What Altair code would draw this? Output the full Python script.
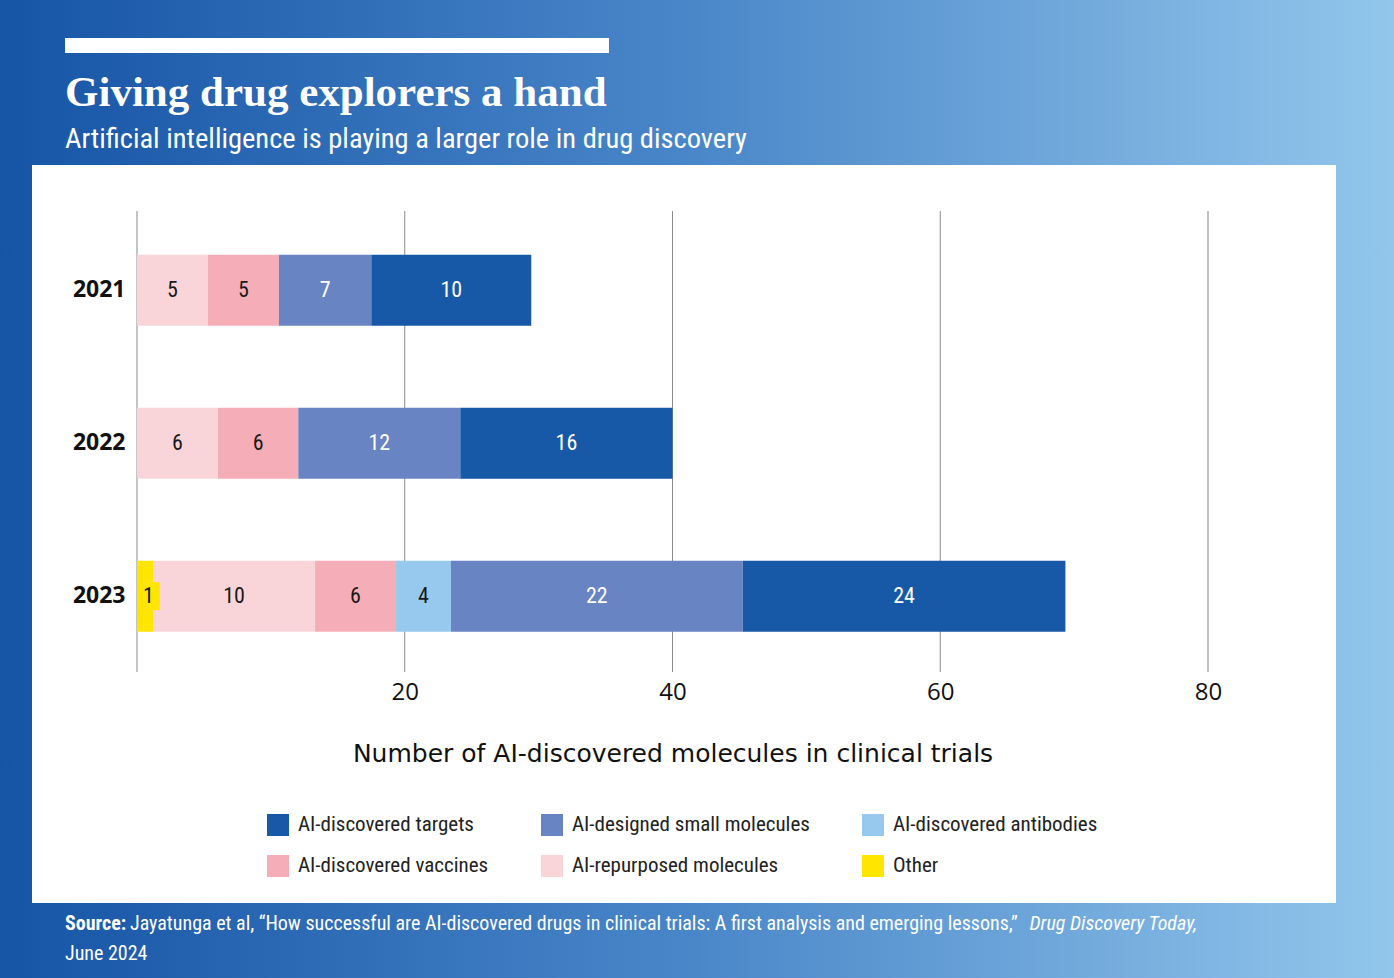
import altair as alt
import pandas as pd

# ---------------- data ----------------
years = ["2021", "2022", "2023"]
# legend order (column by column: two rows, three columns)
categories = ["AI-discovered targets", "AI-discovered vaccines", "AI-designed small molecules",
              "AI-repurposed molecules", "AI-discovered antibodies", "Other"]
colors = ["#1859a7", "#f5aeb8", "#6984c3", "#f9d5da", "#96c9ed", "#ffe500"]
# stacking order, left to right
stack_order = ["Other", "AI-repurposed molecules", "AI-discovered vaccines",
               "AI-discovered antibodies", "AI-designed small molecules", "AI-discovered targets"]
white_text = ["AI-discovered targets", "AI-designed small molecules"]

# labelled counts per year (stack order; None = category absent)
labels_2021 = [None, 5, 5, None, 7, 10]
labels_2022 = [None, 6, 6, None, 12, 16]
labels_2023 = [1, 10, 6, 4, 22, 24]
# segment extents as drawn in the picture (axis units)
drawn_2021 = [0, 5.3, 5.3, 0, 6.9, 11.95]
drawn_2022 = [0, 6.05, 6.0, 0, 12.1, 15.85]
drawn_2023 = [1.2, 12.1, 6.05, 4.1, 21.8, 24.1]
other_label_box_end = 1.7

x_ticks = [0, 20, 40, 60, 80]

title = "Giving drug explorers a hand"
subtitle = "Artificial intelligence is playing a larger role in drug discovery"
x_title = "Number of AI-discovered molecules in clinical trials"
source_bold = "Source:"
source_main = "Jayatunga et al, \u201cHow successful are AI-discovered drugs in clinical trials: A first analysis and emerging lessons,\u201d"
source_italic = "Drug Discovery Today"
source_line2 = "June 2024"

# ---------------- build table ----------------
rows = []
for yr, labs, lens in [("2021", labels_2021, drawn_2021), ("2022", labels_2022, drawn_2022),
                       ("2023", labels_2023, drawn_2023)]:
    pos = 0.0
    for i, (cat, lab, ln) in enumerate(zip(stack_order, labs, lens)):
        if lab is None:
            continue
        rows.append(dict(year=yr, category=cat, label=str(lab), order=i,
                         start=pos, end=pos + ln, mid=pos + ln / 2))
        pos += ln
df = pd.DataFrame(rows)
is_other = (df.year == "2023") & (df.category == "Other")
box_df = df[is_other].copy()
box_df["end"] = other_label_box_end
df.loc[is_other, "mid"] = other_label_box_end / 2

NARROW = "Liberation Sans Narrow, Roboto Condensed, DejaVu Sans Condensed, sans-serif"
SANS = "Open Sans, Montserrat, sans-serif"
WIDE = "DejaVu Sans, Verdana, sans-serif"

W, H = 1071, 461
PL, PT = 137, 211
one = pd.DataFrame({"a": [0]})

xscale = alt.Scale(domain=[0, 80], nice=False, zero=False)
yscale = alt.Scale(domain=years, paddingInner=0.536, paddingOuter=0.2745, align=0.52)

grad = alt.Gradient(gradient="linear", x1=0, x2=1, y1=0, y2=0,
                    stops=[alt.GradientStop(color="#1654a6", offset=0),
                           alt.GradientStop(color="#4a87c9", offset=0.5),
                           alt.GradientStop(color="#92c6eb", offset=1)])

bg = alt.Chart(one).mark_rect(color=grad).encode(
    x=alt.value(-PL), x2=alt.value(1394 - PL), y=alt.value(-PT), y2=alt.value(978 - PT))
panel = alt.Chart(one).mark_rect(color="white").encode(
    x=alt.value(32 - PL), x2=alt.value(1336 - PL), y=alt.value(165 - PT), y2=alt.value(903 - PT))
topbar = alt.Chart(one).mark_rect(color="white").encode(
    x=alt.value(65 - PL), x2=alt.value(609 - PL), y=alt.value(38 - PT), y2=alt.value(53 - PT))


def txt(text, x, y, size, font, weight="normal", style="normal", align="left", color="white"):
    return alt.Chart(one).mark_text(text=text, align=align, baseline="alphabetic", font=font,
                                    fontSize=size, fontWeight=weight, fontStyle=style,
                                    color=color).encode(x=alt.value(x - PL), y=alt.value(y - PT))


t_title = txt(title, 65, 106, 43, "Liberation Serif, DejaVu Serif, serif", weight="bold")
t_sub = txt(subtitle, 65, 148, 28.5, NARROW)
s1 = txt(source_bold, 65, 930, 20, NARROW, weight="bold")
s2 = txt(source_main, 130, 930, 20, NARROW)
s3 = txt(source_italic + ",", 1197, 930, 20, NARROW, style="italic", align="right")
s4 = txt(source_line2, 65, 960, 20, NARROW)

grid = alt.Chart(pd.DataFrame({"v": x_ticks})).mark_rule(color="#8a8a8a", strokeWidth=1).encode(
    x=alt.X("v:Q", scale=xscale), y=alt.value(0), y2=alt.value(H))

bars = alt.Chart(df).mark_bar().encode(
    x=alt.X("start:Q", scale=xscale,
            axis=alt.Axis(values=x_ticks, labelExpr="datum.value == 0 ? '' : datum.label",
                          grid=False, ticks=False, domain=False, labelFont=SANS, labelFontSize=24,
                          labelColor="#111", labelPadding=8, labelFlush=False, title=x_title,
                          titleFont=WIDE, titleFontSize=25, titleFontWeight="normal",
                          titleColor="#111", titlePadding=37, zindex=1)),
    x2="end:Q",
    y=alt.Y("year:N", scale=yscale,
            axis=alt.Axis(title=None, ticks=False, domain=False, labelFont=SANS, labelFontSize=23,
                          labelFontWeight="bold", labelColor="#111", labelPadding=12, zindex=1)),
    color=alt.Color("category:N", scale=alt.Scale(domain=categories, range=colors),
                    legend=alt.Legend(orient="none", legendX=130, legendY=603, columns=3,
                                      symbolType="square", symbolSize=484, symbolStrokeWidth=0,
                                      symbolOpacity=1, labelFont=NARROW, labelFontSize=21,
                                      labelColor="#222", labelOffset=9, labelLimit=500,
                                      columnPadding=52, rowPadding=19, title=None)),
)

box = alt.Chart(box_df).mark_bar(size=28, color="#ffe500").encode(
    x=alt.X("start:Q", scale=xscale), x2="end:Q", y=alt.Y("year:N", scale=yscale))

cond = " || ".join(f"datum.category == '{c}'" for c in white_text)
labels = alt.Chart(df).mark_text(font=NARROW, fontSize=22, baseline="middle").encode(
    x=alt.X("mid:Q", scale=xscale), y=alt.Y("year:N", scale=yscale), text="label:N",
    color=alt.condition(cond, alt.value("white"), alt.value("#1a1a1a")))

chart = alt.layer(bg, panel, topbar, t_title, t_sub, s1, s2, s3, s4, grid, bars, box, labels).properties(
    width=W, height=H,
    padding={"left": PL, "top": PT, "right": 1394 - PL - W, "bottom": 978 - PT - H},
    autosize=alt.AutoSizeParams(type="none"),
).configure_view(stroke=None)

chart.save("out.html", embed_options={"renderer": "svg", "actions": False})
